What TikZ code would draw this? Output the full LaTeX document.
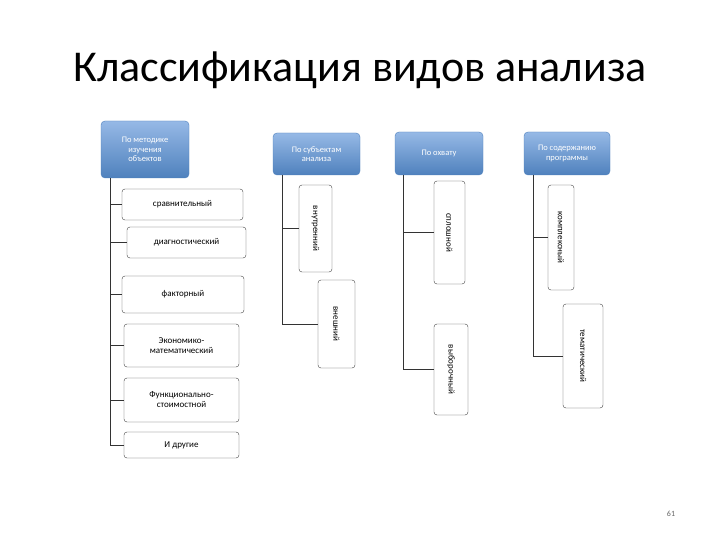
\documentclass[tikz,border=0pt]{standalone}
\usepackage{fontspec}
\setmainfont{Carlito}
\begin{document}
\begin{tikzpicture}[x=1pt,y=-1pt,
  hdr/.style={rounded corners=4pt,top color={rgb,255:red,150;green,185;blue,230},bottom color={rgb,255:red,79;green,129;blue,189},draw={rgb,255:red,79;green,129;blue,189},text=white,font=\fontsize{8.5}{9.5}\selectfont,align=center,inner sep=1pt},
  item/.style={rounded corners=3pt,draw=black!75,fill=white,font=\fontsize{9}{10}\selectfont,align=center,inner sep=1pt},
  vitem/.style={item,rotate=-90},
  ln/.style={draw=black!80,line width=0.6pt}]
\useasboundingbox (0,0) rectangle (720,540);
\fill[white] (0,0) rectangle (720,540);
\node[font=\fontsize{44}{46}\selectfont] (title) at (360,70) {Классификация видов анализа};
\node[font=\fontsize{8}{9}\selectfont,text=black!60] (pg) at (671,514) {61};
% headers
\node[hdr,minimum width=88pt,minimum height=57pt] (h1) at (145,149.5) {По методике\\изучения\\объектов};
\node[hdr,minimum width=87pt,minimum height=42pt] (h2) at (316.5,154) {По субъектам\\анализа};
\node[hdr,minimum width=88pt,minimum height=43pt] (h3) at (439,153.5) {По охвату};
\node[hdr,minimum width=86pt,minimum height=43pt] (h4) at (567,153.5) {По содержанию\\программы};
% column 1
\node[item,minimum width=121pt,minimum height=31pt] (a1) at (182.5,204.5) {сравнительный};
\node[item,minimum width=119pt,minimum height=31pt] (a2) at (186.5,242.5) {диагностический};
\node[item,minimum width=122pt,minimum height=37pt] (a3) at (183,294.5) {факторный};
\node[item,minimum width=115pt,minimum height=43pt] (a4) at (181.5,345.5) {Экономико-\\математический};
\node[item,minimum width=115pt,minimum height=44pt] (a5) at (181.5,400) {Функционально-\\стоимостной};
\node[item,minimum width=115pt,minimum height=26pt] (a6) at (181.5,445) {И другие};
\coordinate (t1) at (110,178);
\draw[ln] (t1) |- (a6.west);
\foreach \n in {a1,a2,a3,a4,a5}{\draw[ln] (110,0 |- \n.west) -- (\n.west);}
% column 2
\node[vitem,minimum width=87pt,minimum height=33pt] (b1) at (315.5,228.5) {внутренний};
\node[vitem,minimum width=88pt,minimum height=37pt] (b2) at (336.5,324) {внешний};
\coordinate (b1l) at (299,228.5); \coordinate (b2l) at (318,324);
\draw[ln] (282,175) |- (b2l);
\draw[ln] (282,228.5) -- (b1l);
% column 3
\node[vitem,minimum width=103pt,minimum height=31pt] (c1) at (449.5,232.5) {сплошной};
\node[vitem,minimum width=91pt,minimum height=34pt] (c2) at (451,369.5) {выборочный};
\coordinate (c1l) at (434,232.5); \coordinate (c2l) at (434,369.5);
\draw[ln] (403,175) |- (c2l);
\draw[ln] (403,232.5) -- (c1l);
% column 4
\node[vitem,minimum width=105pt,minimum height=26pt] (d1) at (561,237.5) {комплексный};
\node[vitem,minimum width=104pt,minimum height=40pt] (d2) at (583,356) {тематический};
\coordinate (d1l) at (548,237.5); \coordinate (d2l) at (563,356);
\draw[ln] (533,175) |- (d2l);
\draw[ln] (533,237.5) -- (d1l);
\end{tikzpicture}
\end{document}
